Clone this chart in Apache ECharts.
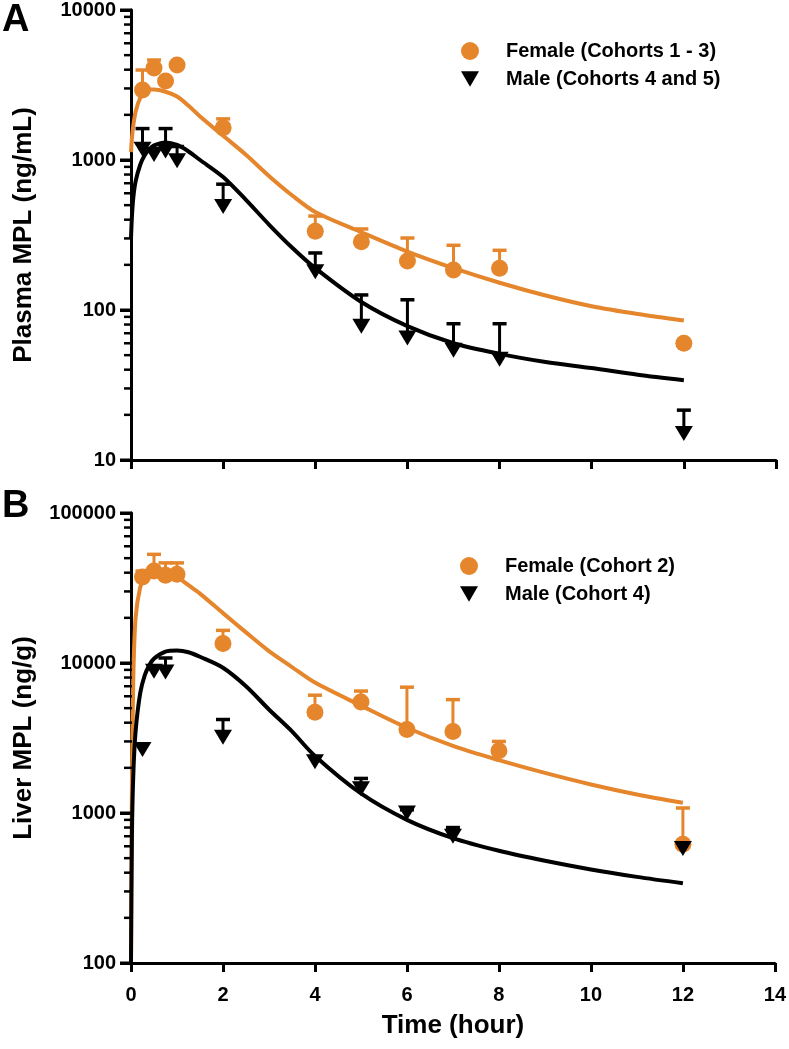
<!DOCTYPE html>
<html>
<head>
<meta charset="UTF-8"/>
<title>MPL plasma and liver</title>
<script src="https://cdn.jsdelivr.net/npm/echarts@6/dist/echarts.min.js" type="text/javascript"></script>
<style>
html, body { margin:0; padding:0; background:#fff; }
#main { width:789px; height:1049px; }
</style>
</head>
<body>
<div id="main"></div>
<script type="text/javascript">
// sampling times (hour)
var times = [0.25, 0.5, 0.75, 1, 2, 4, 5, 6, 7, 8, 12];
// panel A - plasma MPL (ng/mL)
var plasmaFemale      = [2930, 4100, 3360, 4300, 1640, 335, 285, 212, 185, 190, 60];
var plasmaFemaleUpper = [3980, 4640, null, null, 1880, 423, 347, 302, 270, 250, null];
var plasmaMale        = [1180, 1090, 1150, 990, 490, 180, 78, 65, 54, 47, 15];
var plasmaMaleUpper   = [1620, null, 1620, 1230, 690, 240, 126, 117, 81, 81, 21.5];
// panel B - liver MPL (ng/g)
var liverFemale      = [37400, 41000, 38500, 39000, 13500, 4700, 5500, 3600, 3500, 2600, 620];
var liverFemaleUpper = [41000, 53000, 46500, 46500, 16500, 6100, 6500, 6900, 5700, 3000, 1080];
var liverMale        = [2650, 8800, 8700, null, 3200, 2200, 1450, 1000, 700, null, 580];
var liverMaleUpper   = [null, null, 10800, null, 4200, null, 1700, 1050, 800, null, null];

// model fit curves
var fitTimes        = [0, 0.02, 0.05, 0.1, 0.2, 0.3, 0.4, 0.5, 0.75, 1, 1.25, 1.5, 2, 2.5, 3, 3.5, 4, 5, 6, 7, 8, 9, 10, 11, 12];
var plasmaFemaleFit = [1130, 1400, 1700, 2100, 2600, 2850, 2950, 2950, 2850, 2650, 2300, 1950, 1450, 1080, 780, 580, 450, 330, 245, 190, 152, 125, 106, 94, 85];
var plasmaMaleFit   = [300, 420, 560, 720, 930, 1080, 1180, 1250, 1310, 1260, 1140, 1000, 770, 540, 370, 260, 190, 113, 78, 60, 51, 45, 41, 37, 34];
var liverFemaleFit  = [100, 1500, 8000, 20000, 32000, 37000, 39500, 40500, 40000, 37500, 33000, 29000, 21500, 16000, 12000, 9400, 7400, 5200, 3700, 2800, 2250, 1850, 1550, 1330, 1170];
var liverMaleFit    = [100, 700, 1800, 3500, 6300, 8300, 9700, 10700, 11900, 12100, 11800, 11000, 9300, 7000, 4900, 3500, 2400, 1350, 900, 680, 560, 480, 420, 375, 340];

var xTicks = [0, 2, 4, 6, 8, 10, 12, 14];
var plasmaLabels = [10, 100, 1000, 10000];
var liverLabels = [100, 1000, 10000, 100000];

var ORANGE = '#E5862C';
var BLACK = '#000000';
var FONT = '"Liberation Sans", Arial, Helvetica, sans-serif';
var TRI = 'path://M0,0 L20,0 L10,17 Z';
var GRIDS = [
  { left: 131, top: 10, width: 645, height: 450 },
  { left: 131, top: 513, width: 645, height: 450 }
];

function pairs(xs, ys) {
  var out = [];
  for (var i = 0; i < xs.length; i++) {
    if (ys[i] != null) out.push([xs[i], ys[i]]);
  }
  return out;
}
function bars(xs, ys, hs) {
  var out = [];
  for (var i = 0; i < xs.length; i++) {
    if (ys[i] != null && hs[i] != null) out.push([xs[i], ys[i], hs[i]]);
  }
  return out;
}
// decades plus 2..9 of each decade
function logTicks(decades) {
  var out = [];
  for (var i = 0; i < decades.length; i++) {
    out.push(decades[i]);
    if (i < decades.length - 1) {
      for (var k = 2; k <= 9; k++) out.push(decades[i] * k);
    }
  }
  return out;
}
function errorBar(params, api) {
  var p0 = api.coord([api.value(0), api.value(1)]);
  var p1 = api.coord([api.value(0), api.value(2)]);
  var c = api.visual('color');
  return {
    type: 'group',
    children: [
      { type: 'line', shape: { x1: p0[0], y1: p0[1], x2: p1[0], y2: p1[1] }, style: { stroke: c, lineWidth: 3 } },
      { type: 'line', shape: { x1: p1[0] - 7, y1: p1[1], x2: p1[0] + 7, y2: p1[1] }, style: { stroke: c, lineWidth: 3.5 } }
    ]
  };
}

function xAxisOf(grid, showLabel) {
  return {
    type: 'value', gridIndex: grid, min: 0, max: 14, interval: 2,
    axisLine: { show: true, lineStyle: { color: BLACK, width: 3 } },
    axisTick: { show: true, length: 9, lineStyle: { color: BLACK, width: 3 } },
    axisLabel: { show: showLabel, margin: 22, color: BLACK, fontFamily: FONT, fontWeight: 'bold', fontSize: 20,
      formatter: function (v) { return xTicks.indexOf(v) >= 0 ? String(v) : ''; } },
    splitLine: { show: false },
    name: showLabel ? 'Time (hour)' : '',
    nameLocation: 'middle', nameGap: 50,
    nameTextStyle: { color: BLACK, fontFamily: FONT, fontWeight: 'bold', fontSize: 26 }
  };
}
function yAxisOf(grid, labels, name) {
  return {
    type: 'log', logBase: 10, gridIndex: grid, min: labels[0], max: labels[labels.length - 1], position: 'left',
    axisLine: { show: true, lineStyle: { color: BLACK, width: 3 } },
    axisTick: { show: true, length: 11, lineStyle: { color: BLACK, width: 3 } },
    axisLabel: { margin: 15, color: BLACK, fontFamily: FONT, fontWeight: 'bold', fontSize: 20,
      formatter: function (v) { return String(Math.round(v)); } },
    splitLine: { show: false },
    name: name, nameLocation: 'middle', nameGap: 94,
    nameTextStyle: { color: BLACK, fontFamily: FONT, fontWeight: 'bold', fontSize: 26 }
  };
}

var legendText = { color: BLACK, fontFamily: FONT, fontWeight: 'bold', fontSize: 20, padding: [0, 0, 0, 22] };

var myChart = echarts.init(document.getElementById('main'), null, { renderer: 'canvas' });
var option = {
  animation: false,
  backgroundColor: '#ffffff',
  grid: GRIDS,
  xAxis: [xAxisOf(0, false), xAxisOf(1, true)],
  yAxis: [
    yAxisOf(0, plasmaLabels, 'Plasma MPL (ng/mL)'),
    yAxisOf(1, liverLabels, 'Liver MPL (ng/g)')
  ],
  legend: [
    { orient: 'vertical', left: 456, top: 36, itemGap: 8, itemWidth: 18, itemHeight: 18, textStyle: legendText,
      data: [{ name: 'Female (Cohorts 1 - 3)', icon: 'circle' }, { name: 'Male (Cohorts 4 and 5)', icon: TRI }] },
    { orient: 'vertical', left: 455, top: 551, itemGap: 8, itemWidth: 18, itemHeight: 18, textStyle: legendText,
      data: [{ name: 'Female (Cohort 2)', icon: 'circle' }, { name: 'Male (Cohort 4)', icon: TRI }] }
  ],
  graphic: [
    { type: 'text', left: 2, top: 2, style: { text: 'A', fill: BLACK, font: 'bold 38px ' + FONT } },
    { type: 'text', left: 2, top: 488, style: { text: 'B', fill: BLACK, font: 'bold 38px ' + FONT } }
  ],
  series: [
    // fits
    { type: 'line', xAxisIndex: 0, yAxisIndex: 0, data: pairs(fitTimes, plasmaFemaleFit), smooth: 0.3,
      showSymbol: false, lineStyle: { color: ORANGE, width: 4 }, z: 2, silent: true },
    { type: 'line', xAxisIndex: 0, yAxisIndex: 0, data: pairs(fitTimes, plasmaMaleFit), smooth: 0.3,
      showSymbol: false, lineStyle: { color: BLACK, width: 4 }, z: 2, silent: true },
    { type: 'line', xAxisIndex: 1, yAxisIndex: 1, data: pairs(fitTimes, liverFemaleFit), smooth: 0.3,
      showSymbol: false, lineStyle: { color: ORANGE, width: 4 }, z: 2, silent: true },
    { type: 'line', xAxisIndex: 1, yAxisIndex: 1, data: pairs(fitTimes, liverMaleFit), smooth: 0.3,
      showSymbol: false, lineStyle: { color: BLACK, width: 4 }, z: 2, silent: true },
    // error bars (upper only)
    { type: 'custom', xAxisIndex: 0, yAxisIndex: 0, renderItem: errorBar, itemStyle: { color: ORANGE },
      encode: { x: 0, y: [1, 2] }, data: bars(times, plasmaFemale, plasmaFemaleUpper), z: 3 },
    { type: 'custom', xAxisIndex: 0, yAxisIndex: 0, renderItem: errorBar, itemStyle: { color: BLACK },
      encode: { x: 0, y: [1, 2] }, data: bars(times, plasmaMale, plasmaMaleUpper), z: 3 },
    { type: 'custom', xAxisIndex: 1, yAxisIndex: 1, renderItem: errorBar, itemStyle: { color: ORANGE },
      encode: { x: 0, y: [1, 2] }, data: bars(times, liverFemale, liverFemaleUpper), z: 3 },
    { type: 'custom', xAxisIndex: 1, yAxisIndex: 1, renderItem: errorBar, itemStyle: { color: BLACK },
      encode: { x: 0, y: [1, 2] }, data: bars(times, liverMale, liverMaleUpper), z: 3 },
    // observed means
    { name: 'Female (Cohorts 1 - 3)', type: 'scatter', xAxisIndex: 0, yAxisIndex: 0, symbol: 'circle', symbolSize: 17,
      itemStyle: { color: ORANGE, opacity: 1 }, data: pairs(times, plasmaFemale), z: 4 },
    { name: 'Male (Cohorts 4 and 5)', type: 'scatter', xAxisIndex: 0, yAxisIndex: 0, symbol: TRI, symbolSize: [18, 15],
      itemStyle: { color: BLACK, opacity: 1 }, data: pairs(times, plasmaMale), z: 4 },
    { name: 'Female (Cohort 2)', type: 'scatter', xAxisIndex: 1, yAxisIndex: 1, symbol: 'circle', symbolSize: 17,
      itemStyle: { color: ORANGE, opacity: 1 }, data: pairs(times, liverFemale), z: 4 },
    { name: 'Male (Cohort 4)', type: 'scatter', xAxisIndex: 1, yAxisIndex: 1, symbol: TRI, symbolSize: [18, 15],
      itemStyle: { color: BLACK, opacity: 1 }, data: pairs(times, liverMale), z: 4 }
  ]
};
myChart.setOption(option);

// log-axis ticks (decades long, 2..9 short), drawn as graphic lines on a top layer at the left edge
var tickLines = [];
function tickY(gridIndex, decades, v) {
  var y = null;
  try { y = myChart.convertToPixel({ yAxisIndex: gridIndex }, v); } catch (e) { y = null; }
  if (typeof y !== 'number' || isNaN(y)) {
    var g = GRIDS[gridIndex];
    var lo = Math.log(decades[0]), hi = Math.log(decades[decades.length - 1]);
    y = g.top + g.height * (1 - (Math.log(v) - lo) / (hi - lo));
  }
  return y;
}
function addTicks(gridIndex, decades) {
  var x = GRIDS[gridIndex].left;
  logTicks(decades).forEach(function (v) {
    var y = tickY(gridIndex, decades, v);
    var major = decades.indexOf(v) >= 0;
    tickLines.push({
      type: 'line', zlevel: 1, z: 100, silent: true,
      shape: { x1: x - (major ? 11 : 7), y1: y, x2: x + 1, y2: y },
      style: { stroke: BLACK, lineWidth: major ? 3 : 2.5 }
    });
  });
}
addTicks(0, plasmaLabels);
addTicks(1, liverLabels);
myChart.setOption({ graphic: option.graphic.concat(tickLines) });
</script>
</body>
</html>
